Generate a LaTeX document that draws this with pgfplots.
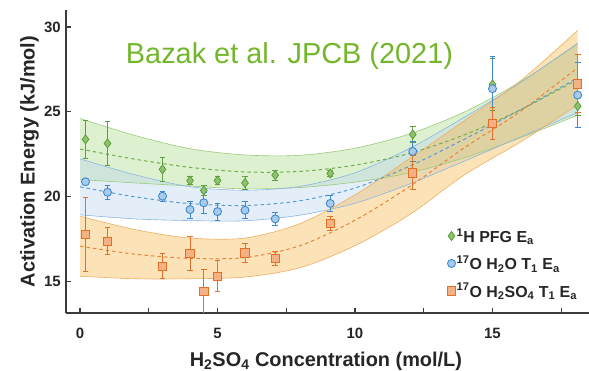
\documentclass[border=0pt]{standalone}
\usepackage{fontspec}
\setmainfont{Liberation Sans}
\usepackage{pgfplots}
\usepackage{pgfplotstable}
\pgfplotsset{compat=1.18}
\usepgfplotslibrary{fillbetween}

\definecolor{axisgray}{HTML}{3A3A3A}
\definecolor{textgray}{HTML}{262626}
\definecolor{titlegreen}{HTML}{72B62A}
\definecolor{gfill}{HTML}{8DC26F}
\definecolor{gedge}{HTML}{5E9E3C}
\definecolor{bfill}{HTML}{A9CBEB}
\definecolor{bedge}{HTML}{3F88CC}
\definecolor{ofill}{HTML}{F4B183}
\definecolor{oedge}{HTML}{E2702A}
\definecolor{gband}{HTML}{A9D98A}
\definecolor{bband}{HTML}{BBD5EF}
\definecolor{oband}{HTML}{F5B84B}
\definecolor{gline}{HTML}{9CCB7C}
\definecolor{bline}{HTML}{8DB6E2}
\definecolor{oline}{HTML}{F0AE62}
\definecolor{gdash}{HTML}{72AE4A}
\definecolor{bdash}{HTML}{5B9BD5}
\definecolor{odash}{HTML}{E8843A}

\newcommand{\tickfont}{\fontsize{15}{18}\selectfont\bfseries}
\newcommand{\labfont}{\fontsize{20}{24}\selectfont\bfseries}
\newcommand{\legfont}{\fontsize{16}{19}\selectfont\bfseries}
\newcommand{\titlefont}{\fontsize{29}{33}\selectfont}

\pgfplotstableread{
x y e
0.2 23.37 1.1
1.0 23.13 1.3
3.0 21.6 0.7
4.0 20.94 0.25
4.5 20.36 0.3
5.0 20.94 0.25
6.0 20.8 0.4
7.1 21.26 0.3
9.1 21.36 0.2
12.1 23.66 0.5
15.0 26.61 1.55
18.1 25.33 0.55
}\greendata

\pgfplotstableread{
x y e
0.2 20.87 0.15
1.0 20.25 0.4
3.0 20.02 0.3
4.0 19.23 0.5
4.5 19.63 0.6
5.0 19.11 0.5
6.0 19.19 0.5
7.1 18.68 0.4
9.1 19.59 0.5
12.1 22.66 0.6
15.0 26.36 1.9
18.1 25.98 1.9
}\bluedata

\pgfplotstableread{
x y e
0.2 17.76 2.2
1.0 17.36 0.8
3.0 15.89 0.75
4.0 16.64 1.0
4.5 14.39 1.3
5.0 15.3 0.9
6.0 16.68 0.55
7.1 16.36 0.4
9.1 18.41 0.4
12.1 21.4 1.0
15.0 24.31 0.95
18.1 26.65 1.7
}\orangedata

\pgfplotstableread{
x    gc    gu    gl    bc    bu    bl    oc    ou    ol
0    22.8  24.6  21.0  20.57 22.22 18.92 17.07 18.84 15.30
2    22.2  23.6  20.8  19.98 21.28 18.68 16.60 18.05 15.15
4    21.72 22.82 20.62 19.58 20.58 18.58 16.35 17.55 15.15
6    21.45 22.45 20.45 19.47 20.37 18.57 16.40 17.55 15.25
8    21.48 22.43 20.53 19.75 20.60 18.90 17.10 18.40 15.80
10   21.85 22.85 20.85 20.50 21.40 19.60 18.60 20.10 17.10
12   22.55 23.70 21.40 21.80 22.85 20.75 20.60 22.25 18.95
14   23.65 25.00 22.30 23.40 24.70 22.10 22.90 24.50 21.30
16   25.10 26.75 23.45 25.10 26.70 23.50 25.00 26.80 23.20
18.1 26.90 29.00 24.80 27.00 29.05 24.95 27.60 29.80 25.40
}\bands

\begin{document}
\begin{tikzpicture}
\begin{axis}[
  at={(0,0)}, anchor=south west,
  scale only axis, width=523bp, height=303bp,
  xmin=-0.51, xmax=18.51, ymin=13.13, ymax=31.0,
  axis x line*=bottom, axis y line*=left,
  axis line style={-, line width=1.6bp, draw=axisgray},
  xtick={0,5,10,15}, minor xtick={2.5,7.5,12.5,17.5},
  ytick={15,20,25,30},
  tick align=inside,
  major tick length=4.5bp, minor tick length=4.5bp,
  every tick/.style={line width=1.2bp, draw=axisgray},
  /pgf/number format/assume math mode=true,
  xticklabel style={font=\tickfont, text=textgray, anchor=base, yshift=-25.3bp},
  yticklabel style={font=\tickfont, text=textgray, xshift=-1.7bp},
  xlabel={H\textsubscript{2}SO\textsubscript{4} Concentration (mol/L)},
  xlabel style={font=\labfont, text=textgray, at={(axis description cs:0.497,-0.177)}, anchor=base},
  ylabel={Activation Energy (kJ/mol)},
  ylabel style={font=\labfont, text=textgray, at={(axis description cs:-0.0698,0.5)}, anchor=center},
  legend style={draw=none, fill=none, at={(axis description cs:0.723,0.29)}, anchor=north west,
    font=\legfont, text=textgray, row sep=10bp,
    nodes={inner sep=1bp}},
  legend cell align=left,
  legend image code/.code={\draw[#1, mark repeat=2, mark phase=2] plot coordinates {(0bp,0bp) (5bp,0bp) (15bp,0bp)};},
]
% bands
\addplot[name path=gu, draw=gline, line width=0.6bp, smooth, forget plot] table[x=x,y=gu]{\bands};
\addplot[name path=gl, draw=gline, line width=0.6bp, smooth, forget plot] table[x=x,y=gl]{\bands};
\addplot[fill=gband, fill opacity=0.4, draw=none, forget plot] fill between[of=gu and gl];
\addplot[name path=bu, draw=bline, line width=0.6bp, smooth, forget plot] table[x=x,y=bu]{\bands};
\addplot[name path=bl, draw=bline, line width=0.6bp, smooth, forget plot] table[x=x,y=bl]{\bands};
\addplot[fill=bband, fill opacity=0.4, draw=none, forget plot] fill between[of=bu and bl];
\addplot[name path=ou, draw=oline, line width=0.6bp, smooth, forget plot] table[x=x,y=ou]{\bands};
\addplot[name path=ol, draw=oline, line width=0.6bp, smooth, forget plot] table[x=x,y=ol]{\bands};
\addplot[fill=oband, fill opacity=0.4, draw=none, forget plot] fill between[of=ou and ol];
% fits
\addplot[draw=gdash, line width=1bp, dash pattern=on 3.5bp off 3bp, smooth, forget plot] table[x=x,y=gc]{\bands};
\addplot[draw=bdash, line width=1bp, dash pattern=on 3.5bp off 3bp, smooth, forget plot] table[x=x,y=bc]{\bands};
\addplot[draw=odash, line width=1bp, dash pattern=on 3.5bp off 3bp, smooth, forget plot] table[x=x,y=oc]{\bands};
% data
\addplot[only marks, mark=diamond*, mark size=4.5bp, mark options={fill=gfill, draw=gedge, line width=0.8bp},
  error bars/.cd, y dir=both, y explicit,
  error bar style={line width=0.9bp, draw=gedge},
  error mark options={rotate=90, mark size=2.8bp, line width=0.9bp, draw=gedge}]
  table[x=x, y=y, y error=e]{\greendata};
\addlegendentry{\textsuperscript{1}H PFG E\textsubscript{a}}
\addplot[only marks, mark=*, mark size=4bp, mark options={fill=bfill, draw=bedge, line width=0.9bp},
  error bars/.cd, y dir=both, y explicit,
  error bar style={line width=0.9bp, draw=bedge},
  error mark options={rotate=90, mark size=2.8bp, line width=0.9bp, draw=bedge}]
  table[x=x, y=y, y error=e]{\bluedata};
\addlegendentry{\textsuperscript{17}O H\textsubscript{2}O T\textsubscript{1} E\textsubscript{a}}
\addplot[only marks, mark=square*, mark size=4.2bp, mark options={fill=ofill, draw=oedge, line width=0.9bp},
  error bars/.cd, y dir=both, y explicit,
  error bar style={line width=0.9bp, draw=oedge},
  error mark options={rotate=90, mark size=2.8bp, line width=0.9bp, draw=oedge}]
  table[x=x, y=y, y error=e]{\orangedata};
\addlegendentry{\textsuperscript{17}O H\textsubscript{2}SO\textsubscript{4} T\textsubscript{1} E\textsubscript{a}}
\node[anchor=base, font=\titlefont, text=titlegreen] at (axis description cs:0.4273,0.825) {Bazak et al. JPCB (2021)};
\end{axis}
\pgfresetboundingbox
\path[use as bounding box] (-66bp,-58bp) rectangle (523bp,313bp);
\end{tikzpicture}
\end{document}
